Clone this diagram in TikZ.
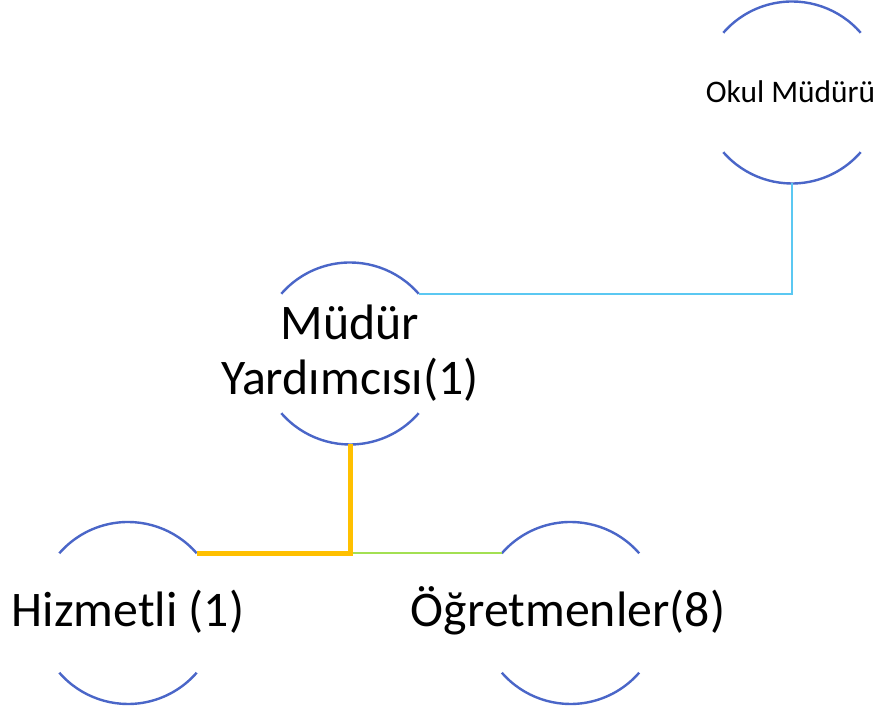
\documentclass[tikz,border=0pt]{standalone}
\usepackage{fontspec}
\setmainfont{Carlito}
\definecolor{arcblue}{HTML}{4A66C8}
\definecolor{linkblue}{HTML}{5BC8F2}
\definecolor{linkorange}{HTML}{FFC000}
\definecolor{linkgreen}{HTML}{A3E052}
\begin{document}
\begin{tikzpicture}[x=1pt,y=1pt,
  holder/.style={circle,draw=none,minimum size=182pt,inner sep=0pt,outer sep=0pt},
  arcline/.style={draw=arcblue,line width=2.4pt},
  bigtext/.style={font=\fontsize{49.8}{55}\selectfont,anchor=base,inner sep=0pt},
  smalltext/.style={font=\fontsize{31.4}{36}\selectfont,anchor=base,inner sep=0pt},
  bluelink/.style={draw=linkblue,line width=2.2pt},
  orangelink/.style={draw=linkorange,line width=5pt},
  greenlink/.style={draw=linkgreen,line width=2.2pt}]
\useasboundingbox (0,0) rectangle (884,708);
\fill[white] (0,0) rectangle (884,708);
% circle holders
\node[holder] (ok) at (792,615.5) {};
\node[holder] (my) at (350,354.5) {};
\node[holder] (hz) at (128,95) {};
\node[holder] (og) at (570.5,95) {};
% arcs
\foreach \n in {ok,my,hz,og}{
  \draw[arcline] (\n.41) arc[start angle=41,end angle=139,radius=91pt];
  \draw[arcline] (\n.221) arc[start angle=221,end angle=319,radius=91pt];
}
% texts
\node[smalltext] (okt) at (790.5,605) {Okul Müdürü};
\node[bigtext] (myt1) at (350,368) {Müdür};
\node[bigtext] (myt2) at (350,313) {Yardımcısı(1)};
\node[bigtext] (hzt) at (128,81) {Hizmetli (1)};
\node[bigtext] (ogt) at (568,81) {Öğretmenler(8)};
% connectors
\coordinate (j) at (my.south |- hz.41);
\draw[bluelink] (my.41) -| (ok.south);
\draw[greenlink] (j) -- (og.139);
\draw[orangelink] (my.south) |- (hz.41);
\end{tikzpicture}
\end{document}
